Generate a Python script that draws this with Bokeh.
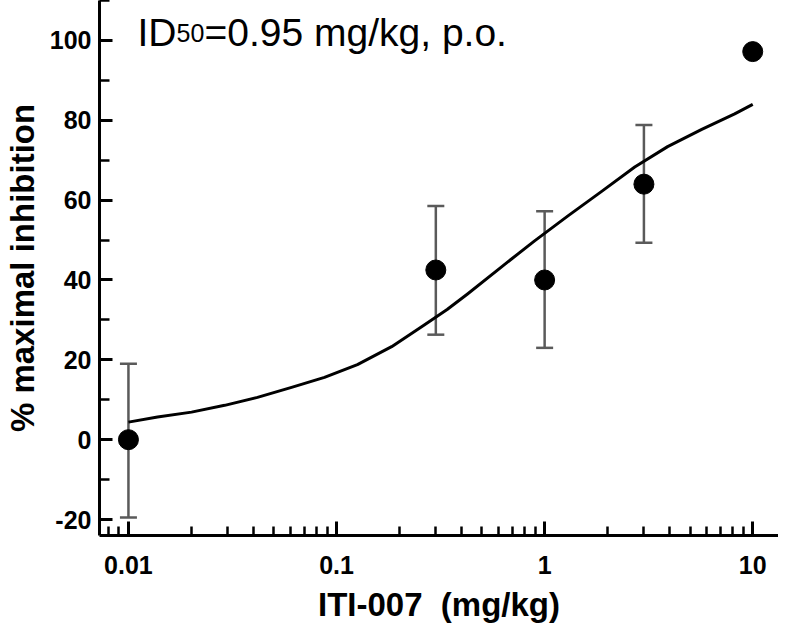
from bokeh.plotting import figure
from bokeh.models import Range1d, FixedTicker, Label, CustomJSTickFormatter
from bokeh.embed import file_html
from bokeh.resources import INLINE

# ---- data ----
dose = [0.01, 0.3, 1.0, 3.0, 10.0]
pct_inhibition = [0.0, 42.5, 40.0, 64.0, 97.2]
err_low = [-19.5, 26.3, 23.0, 49.3, float("nan")]
err_high = [19.0, 58.5, 57.2, 78.8, float("nan")]

curve_dose = [0.01, 0.0138, 0.0201, 0.029, 0.0417, 0.0608, 0.0875, 0.126, 0.184, 0.265,
              0.34, 0.426, 0.621, 0.895, 1.29, 1.88, 2.71, 3.90, 5.69, 8.19, 10.0]
curve_pct = [4.4, 5.7, 6.9, 8.6, 10.6, 13.1, 15.6, 18.8, 23.3, 28.8,
             32.6, 36.5, 43.3, 49.8, 56.0, 62.2, 68.3, 73.4, 77.7, 81.6, 84.0]

x_major = [0.01, 0.1, 1, 10]
x_minor = [0.007, 0.008, 0.009,
           0.02, 0.03, 0.04, 0.05, 0.06, 0.07, 0.08, 0.09,
           0.2, 0.3, 0.4, 0.5, 0.6, 0.7, 0.8, 0.9,
           2, 3, 4, 5, 6, 7, 8, 9]
y_major = [-20, 0, 20, 40, 60, 80, 100]
y_minor = [-10, 10, 30, 50, 70, 90, 110]

title_main = "ID"
title_sub = "50"
title_rest = "=0.95 mg/kg, p.o."
x_label = "ITI-007\u00a0 (mg/kg)"
y_label = "% maximal inhibition"

FONT = "Liberation Sans"
GRAY = "#5a5a5a"

p = figure(x_axis_type="log", output_backend="svg", toolbar_location=None,
           frame_width=679, frame_height=535,
           x_range=Range1d(0.00726, 13.3), y_range=Range1d(-24, 110),
           min_border_left=97, min_border_right=0, min_border_top=0, min_border_bottom=0)
p.background_fill_color = "white"
p.border_fill_color = "white"
p.outline_line_color = None
p.xgrid.visible = False
p.ygrid.visible = False

# error bars
p.segment(x0=dose, y0=err_low, x1=dose, y1=err_high, line_color=GRAY, line_width=2.5)
p.scatter(x=dose, y=err_low, marker="dash", size=17, line_color=GRAY, line_width=2.5)
p.scatter(x=dose, y=err_high, marker="dash", size=17, line_color=GRAY, line_width=2.5)

# fitted curve
p.line(x=curve_dose, y=curve_pct, line_color="black", line_width=3, line_join="round")

# data points
p.scatter(x=dose, y=pct_inhibition, marker="circle", size=20, fill_color="black", line_color="black")

# axes
xa = p.xaxis[0]
xa.ticker = FixedTicker(ticks=x_major, minor_ticks=x_minor)
xa.formatter = CustomJSTickFormatter(code="return tick.toString();")
ya = p.yaxis[0]
ya.ticker = FixedTicker(ticks=y_major, minor_ticks=y_minor)
ya.formatter = CustomJSTickFormatter(code="return tick.toString();")

for ax in (xa, ya):
    ax.axis_line_width = 3
    ax.axis_line_color = "black"
    ax.major_tick_line_width = 3
    ax.minor_tick_line_width = 2.5
    ax.major_tick_line_color = "black"
    ax.minor_tick_line_color = "black"
    ax.major_tick_out = 0
    ax.minor_tick_out = 0
    ax.major_label_text_font = FONT
    ax.major_label_text_font_style = "bold"
    ax.major_label_text_font_size = "25px"
    ax.major_label_text_color = "black"
    ax.axis_label_text_font = FONT
    ax.axis_label_text_font_style = "bold"
    ax.axis_label_text_font_size = "33px"
    ax.axis_label_text_color = "black"

xa.major_tick_in = 14
xa.minor_tick_in = 9
xa.major_label_standoff = 20
xa.axis_label = x_label
xa.axis_label_standoff = 9

ya.major_tick_in = 13
ya.minor_tick_in = 10
ya.major_label_standoff = 8
ya.axis_label = y_label
ya.axis_label_standoff = 6

# title text inside the plot
p.add_layout(Label(x=38, y=503, x_units="screen", y_units="screen", text=title_main,
                   text_font=FONT, text_font_size="39px", text_color="black",
                   text_baseline="alphabetic"))
p.add_layout(Label(x=77, y=503, x_units="screen", y_units="screen", text=title_sub,
                   text_font=FONT, text_font_size="25px", text_color="black",
                   text_baseline="alphabetic"))
p.add_layout(Label(x=105, y=503, x_units="screen", y_units="screen", text=title_rest,
                   text_font=FONT, text_font_size="39px", text_color="black",
                   text_baseline="alphabetic"))

open("out.html", "w").write(file_html(p, INLINE))
